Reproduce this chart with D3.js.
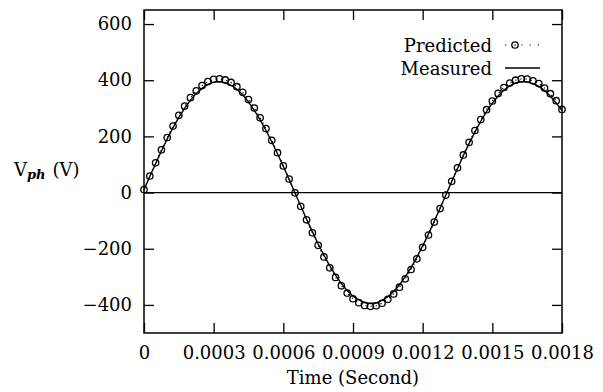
<!DOCTYPE html>
<html lang="en">
<head>
    <meta charset="utf-8">
    <title>Vph predicted vs measured</title>
    <script src="https://d3js.org/d3.v7.min.js"></script>
    <style>
        * { margin: 0; padding: 0; }
        body { width: 603px; height: 392px; background: white; overflow: hidden; }
        svg text { font-family: "DejaVu Serif", serif; fill: black; }
    </style>
</head>
<body>
<div id="container"></div>
<script>
    // time step of the samples (s)
    const timeStep = 0.000025;
    const predicted = [11, 59, 106, 152, 196, 237, 275, 308, 338, 362, 381, 395, 403, 405, 401, 392, 377, 357, 331, 301,
        266, 228, 186, 142, 95, 48, -1, -49, -97, -143, -188, -229, -268, -302, -332, -358, -378, -392, -402, -405,
        -403, -394, -380, -361, -337, -307, -274, -236, -195, -151, -105, -57, -9, 40, 88, 134, 179, 221, 260, 295,
        326, 353, 374, 390, 400, 405, 404, 398, 388, 372, 352, 327, 296];
    const measured = [10, 57, 103, 148, 191, 231, 268, 300, 329, 353, 371, 385, 393, 395, 391, 382, 368, 348, 323, 293,
        259, 222, 181, 138, 93, 47, -1, -48, -95, -139, -183, -223, -261, -294, -324, -349, -369, -382, -392, -395,
        -393, -384, -371, -352, -329, -299, -267, -230, -190, -147, -102, -56, -9, 39, 86, 131, 175, 215, 254, 288,
        318, 344, 365, 380, 390, 395, 394, 388, 378, 363, 343, 319, 292];
    const xTicks = [0, 0.0003, 0.0006, 0.0009, 0.0012, 0.0015, 0.0018];
    const xTickLabels = ["0", "0.0003", "0.0006", "0.0009", "0.0012", "0.0015", "0.0018"];
    const yTicks = [-400, -200, 0, 200, 400, 600];

    const w = 603, h = 392;
    const mLeft = 144, mRight = 562, mTop = 10, mBottom = 333;
    const fs = "18px";

    const x = d3.scaleLinear().domain([0, 0.0018]).range([mLeft, mRight]);
    const y = d3.scaleLinear().domain([-500, 650]).range([mBottom, mTop]);

    const svg = d3.select("#container").append("svg")
        .attr("width", w).attr("height", h);

    const predData = predicted.map((v, i) => ({ t: i * timeStep, v }));
    const measData = measured.map((v, i) => ({ t: i * timeStep, v }));

    // zero line
    svg.append("line")
        .attr("x1", mLeft).attr("x2", mRight)
        .attr("y1", y(0)).attr("y2", y(0))
        .attr("stroke", "black").attr("stroke-width", 1.2);

    const line = d3.line().x(d => x(d.t)).y(d => y(d.v));

    svg.append("path").datum(predData)
        .attr("d", line).attr("fill", "none")
        .attr("stroke", "black").attr("stroke-width", 1.2)
        .attr("stroke-dasharray", "1.2,4");

    svg.append("path").datum(measData)
        .attr("d", line).attr("fill", "none")
        .attr("stroke", "black").attr("stroke-width", 1.4);

    svg.selectAll("circle.pred").data(predData).enter()
        .append("circle").attr("class", "pred")
        .attr("cx", d => x(d.t)).attr("cy", d => y(d.v))
        .attr("r", 3.2).attr("fill", "none")
        .attr("stroke", "black").attr("stroke-width", 1.3);

    // axes: ticks inside on all four sides
    const tickLen = 10;
    const xAxisB = d3.axisBottom(x).tickValues(xTicks).tickSize(-tickLen).tickPadding(13)
        .tickFormat((d, i) => xTickLabels[i]);
    const xAxisT = d3.axisTop(x).tickValues(xTicks).tickSize(-tickLen).tickFormat("");
    const yAxisL = d3.axisLeft(y).tickValues(yTicks).tickSize(-tickLen).tickPadding(12)
        .tickFormat(d => d < 0 ? "\u2212" + Math.abs(d) : d);
    const yAxisR = d3.axisRight(y).tickValues(yTicks).tickSize(-tickLen).tickFormat("");

    const styleAxis = g => {
        g.select(".domain").remove();
        g.selectAll(".tick line").attr("stroke", "black").attr("stroke-width", 1.3);
        g.selectAll("text").style("font-size", fs).attr("fill", "black");
    };

    svg.append("g").attr("transform", `translate(0,${mBottom})`).call(xAxisB).call(styleAxis);
    svg.append("g").attr("transform", `translate(0,${mTop})`).call(xAxisT).call(styleAxis);
    svg.append("g").attr("transform", `translate(${mLeft},0)`).call(yAxisL).call(styleAxis);
    svg.append("g").attr("transform", `translate(${mRight},0)`).call(yAxisR).call(styleAxis);

    // frame
    svg.append("rect")
        .attr("x", mLeft).attr("y", mTop)
        .attr("width", mRight - mLeft).attr("height", mBottom - mTop)
        .attr("fill", "none").attr("stroke", "black").attr("stroke-width", 1.5);

    // axis titles
    svg.append("text")
        .attr("x", (mLeft + mRight) / 2).attr("y", 384)
        .attr("text-anchor", "middle").style("font-size", fs)
        .text("Time (Second)");

    const yl = svg.append("text")
        .attr("x", 14).attr("y", 176).style("font-size", fs);
    yl.append("tspan").text("V");
    yl.append("tspan").attr("dy", 3).style("font-size", "13px").style("font-style", "italic")
        .style("font-weight", "bold").text("ph");
    yl.append("tspan").attr("dy", -3).attr("dx", 7).text("(V)");

    // legend
    const legend = svg.append("g");
    legend.append("text").attr("x", 492).attr("y", 52)
        .attr("text-anchor", "end").style("font-size", fs).text("Predicted");
    legend.append("line")
        .attr("x1", 505).attr("x2", 542).attr("y1", 45).attr("y2", 45)
        .attr("stroke", "black").attr("stroke-width", 1.2).attr("stroke-dasharray", "1.2,7");
    legend.append("circle").attr("cx", 515).attr("cy", 45).attr("r", 3.2)
        .attr("fill", "white").attr("stroke", "black").attr("stroke-width", 1.3);
    legend.append("circle").attr("cx", 515).attr("cy", 45).attr("r", 0.8).attr("fill", "black");
    legend.append("text").attr("x", 492).attr("y", 75)
        .attr("text-anchor", "end").style("font-size", fs).text("Measured");
    legend.append("line")
        .attr("x1", 505).attr("x2", 540).attr("y1", 68).attr("y2", 68)
        .attr("stroke", "black").attr("stroke-width", 1.4);
</script>
</body>
</html>
